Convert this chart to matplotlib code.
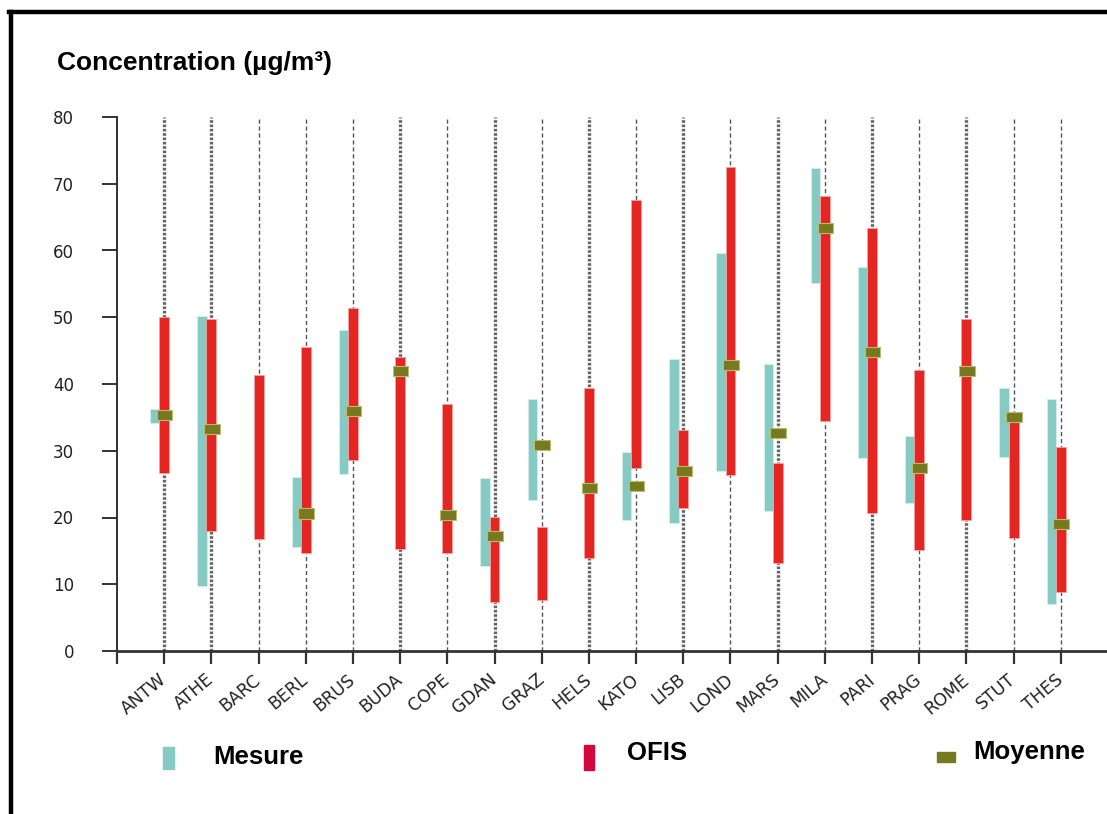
import numpy as np
import matplotlib
matplotlib.use("Agg")
import matplotlib.pyplot as plt
import matplotlib.transforms as mtransforms
from matplotlib.patches import Rectangle
from matplotlib.lines import Line2D

nan = np.nan

cities = ["ANTW", "ATHE", "BARC", "BERL", "BRUS", "BUDA", "COPE", "GDAN", "GRAZ", "HELS",
          "KATO", "LISB", "LOND", "MARS", "MILA", "PARI", "PRAG", "ROME", "STUT", "THES"]

# Mesure (measured range)
mesure_low  = [34.2,  9.8, nan, 15.6, 26.5, nan, nan, 12.7, 22.6, nan,
               19.7, 19.2, 26.9, 20.9, 55.1, 28.9, 22.1, nan, 29.1,  7.1]
mesure_high = [36.3, 50.2, nan, 26.1, 48.1, nan, nan, 25.9, 37.7, nan,
               29.8, 43.7, 59.6, 43.0, 72.4, 57.5, 32.2, nan, 39.4, 37.7]

# OFIS (modelled range)
ofis_low  = [26.7, 18.0, 16.8, 14.7, 28.6, 15.3, 14.7,  7.4,  7.7, 13.9,
             27.4, 21.4, 26.4, 13.2, 34.4, 20.6, 15.1, 19.7, 17.0,  8.8]
ofis_high = [50.0, 49.7, 41.3, 45.6, 51.4, 44.0, 37.0, 20.1, 18.6, 39.4,
             67.6, 33.1, 72.5, 28.1, 68.1, 63.3, 42.1, 49.7, 35.8, 30.5]

# Moyenne
moyenne = [35.4, 33.2, nan, 20.6, 35.9, 41.9, 20.4, 17.3, 30.8, 24.4,
           24.7, 26.9, 42.8, 32.7, 63.3, 44.8, 27.4, 41.9, 35.1, 19.0]

# guide line weight (image has heavier dotted lines at some cities)
heavy_guide = [True, True, False, False, False, True, False, True, False, True,
               False, True, False, True, False, True, False, True, False, False]

TEAL = "#86CAC4"
RED = "#E52521"
OLIVE = "#76791E"

W, H = 1107, 814
fig = plt.figure(figsize=(W / 100, H / 100), dpi=100)
ax = fig.add_axes([117 / W, 1 - 651 / H, 991 / W, (651 - 117) / H])

x = np.arange(len(cities))
m_lo = np.array(mesure_low)
m_hi = np.array(mesure_high)
o_lo = np.array(ofis_low)
o_hi = np.array(ofis_high)
moy = np.array(moyenne)

# vertical guide lines
for xi, heavy in zip(x, heavy_guide):
    if heavy:
        ax.plot([xi, xi], [0, 80], color="#666666", lw=2.4, ls=(0, (0.8, 0.5)), zorder=1)
    else:
        ax.plot([xi, xi], [0, 80], color="#555555", lw=1.0, ls=(0, (3, 2)), zorder=1)

ax.bar(x - 0.2, m_hi - m_lo, bottom=m_lo, width=0.2, color=TEAL,
       edgecolor="#d6eeec", linewidth=0.6, zorder=2)
ax.bar(x, o_hi - o_lo, bottom=o_lo, width=0.21, color=RED,
       edgecolor="#f3a3a0", linewidth=0.6, zorder=3)
ax.bar(x + 0.01, 1.5, bottom=moy - 0.75, width=0.33, color=OLIVE,
       edgecolor="#b9bc70", linewidth=0.8, zorder=4)

ax.set_xlim(-1, 20)
ax.set_ylim(0, 80)
ax.set_yticks(np.arange(0, 81, 10))
ax.set_xticks(np.arange(-1, 20))
ax.set_xticklabels([""] + cities, rotation=40, ha="right", va="center",
                   rotation_mode="anchor", fontsize=12.5, color="#222222")
shift = mtransforms.ScaledTranslation(-8 / 72, 0, fig.dpi_scale_trans)
for lab in ax.get_xticklabels():
    lab.set_transform(lab.get_transform() + shift)
ax.tick_params(axis="x", length=9, width=1.6, color="#333333", pad=10)
ax.tick_params(axis="y", length=11, width=1.3, color="#222222", pad=20,
               labelsize=12, labelcolor="#222222")
for s in ["top", "right"]:
    ax.spines[s].set_visible(False)
ax.spines["left"].set_color("#222222")
ax.spines["left"].set_linewidth(1.3)
ax.spines["bottom"].set_color("#333333")
ax.spines["bottom"].set_linewidth(2.0)

# outer frame (left and top edges visible)
fig.add_artist(Line2D([10.5 / W, 10.5 / W], [0, 1 - 12 / H], color="black", lw=3.2,
                      transform=fig.transFigure))
fig.add_artist(Line2D([9 / W, 1], [1 - 12 / H, 1 - 12 / H], color="black", lw=3.2,
                      transform=fig.transFigure))

fig.text(57 / W, 1 - 63 / H, "Concentration (µg/m³)", family="Liberation Sans",
         fontweight="bold", fontsize=19, va="center", ha="left")

# legend
fig.add_artist(Rectangle((163 / W, 1 - 769 / H), 11 / W, 22 / H, color=TEAL,
                         transform=fig.transFigure))
fig.text(213 / W, 1 - 757 / H, "Mesure", family="Liberation Sans", fontweight="bold",
         fontsize=18.5, va="center", ha="left")
fig.add_artist(Rectangle((584 / W, 1 - 770 / H), 10 / W, 25 / H, color="#D2083C",
                         transform=fig.transFigure))
fig.text(627 / W, 1 - 753 / H, "OFIS", family="Liberation Sans", fontweight="bold",
         fontsize=18.5, va="center", ha="left")
fig.add_artist(Rectangle((937 / W, 1 - 762 / H), 18 / W, 10 / H, color=OLIVE,
                         transform=fig.transFigure))
fig.text(973 / W, 1 - 752 / H, "Moyenne", family="Liberation Sans", fontweight="bold",
         fontsize=18.5, va="center", ha="left")

fig.savefig("out.png", dpi=100)
